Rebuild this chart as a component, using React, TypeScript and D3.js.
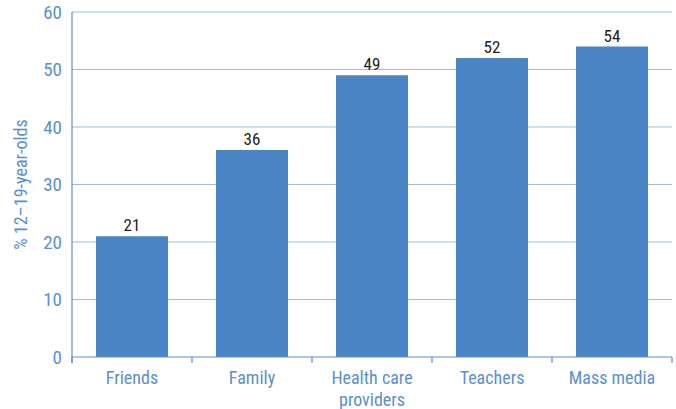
import { useEffect, useRef } from "react";
import * as d3 from "d3";

const categories = ["Friends", "Family", "Health care|providers", "Teachers", "Mass media"];
const values = [21, 36, 49, 52, 54];
const yTicks = [0, 10, 20, 30, 40, 50, 60];

const FONT = "'Liberation Sans Narrow', 'Roboto Condensed', Roboto, sans-serif";

export default function App() {
  const ref = useRef<SVGSVGElement>(null);

  useEffect(() => {
    const svg = d3.select(ref.current);
    svg.selectAll("*").remove();

    const margin = { top: 12, right: 4, bottom: 52, left: 72 };
    const width = 676;
    const height = 409;

    const x = d3
      .scaleBand()
      .domain(categories)
      .range([margin.left, width - margin.right])
      .padding(0);
    const y = d3
      .scaleLinear()
      .domain([0, 60])
      .range([height - margin.bottom, margin.top]);

    // gridlines
    svg
      .append("g")
      .selectAll("line")
      .data(yTicks.filter((d) => d > 0))
      .enter()
      .append("line")
      .attr("x1", margin.left)
      .attr("x2", width - margin.right)
      .attr("y1", (d) => y(d))
      .attr("y2", (d) => y(d))
      .attr("stroke", "#9dbbe2")
      .attr("stroke-width", 1.2);

    // bars
    const bw = x.bandwidth();
    svg
      .append("g")
      .selectAll("rect")
      .data(values)
      .enter()
      .append("rect")
      .attr("x", (_, i) => (x(categories[i]) as number) + bw * 0.2)
      .attr("width", bw * 0.6)
      .attr("y", (d) => y(d))
      .attr("height", (d) => y(0) - y(d))
      .attr("fill", "#4b84c4");

    // value labels
    svg
      .append("g")
      .selectAll("text")
      .data(values)
      .enter()
      .append("text")
      .attr("x", (_, i) => (x(categories[i]) as number) + bw / 2)
      .attr("y", (d) => y(d) - 5)
      .attr("text-anchor", "middle")
      .style("font-family", FONT)
      .style("font-size", "17px")
      .style("fill", "#222")
      .text((d) => d);

    // axes
    const axisColor = "#5b8fd0";
    svg
      .append("line")
      .attr("x1", margin.left)
      .attr("x2", margin.left)
      .attr("y1", y(60))
      .attr("y2", y(0) + 6)
      .attr("stroke", axisColor)
      .attr("stroke-width", 1.2);
    svg
      .append("line")
      .attr("x1", margin.left)
      .attr("x2", width - margin.right)
      .attr("y1", y(0))
      .attr("y2", y(0))
      .attr("stroke", axisColor)
      .attr("stroke-width", 1.2);

    const bounds = categories.map((c) => x(c) as number).concat([width - margin.right]);
    svg
      .append("g")
      .selectAll("line")
      .data(bounds)
      .enter()
      .append("line")
      .attr("x1", (d) => d)
      .attr("x2", (d) => d)
      .attr("y1", y(0))
      .attr("y2", y(0) + 6)
      .attr("stroke", axisColor)
      .attr("stroke-width", 1.2);

    // y tick labels
    svg
      .append("g")
      .selectAll("text")
      .data(yTicks)
      .enter()
      .append("text")
      .attr("x", margin.left - 10)
      .attr("y", (d) => y(d))
      .attr("dy", "0.36em")
      .attr("text-anchor", "end")
      .style("font-family", FONT)
      .style("font-size", "19px")
      .style("fill", axisColor)
      .text((d) => d);

    // category labels
    const lbl = svg
      .append("g")
      .selectAll("text")
      .data(categories)
      .enter()
      .append("text")
      .attr("x", (d) => (x(d) as number) + bw / 2)
      .attr("y", y(0) + 27)
      .attr("text-anchor", "middle")
      .style("font-family", FONT)
      .style("font-size", "18px")
      .style("fill", axisColor);
    lbl
      .selectAll("tspan")
      .data((d) => d.split("|"))
      .enter()
      .append("tspan")
      .attr("x", function () {
        return (this as any).parentNode.getAttribute("x");
      })
      .attr("dy", (_, i) => (i === 0 ? 0 : 22))
      .text((d) => d);

    // y axis title
    svg
      .append("text")
      .attr("transform", `translate(27, ${(y(0) + y(60)) / 2}) rotate(-90)`)
      .attr("text-anchor", "middle")
      .style("font-family", FONT)
      .style("font-size", "18px")
      .style("fill", axisColor)
      .text("% 12–19-year-olds");
  }, []);

  return (
    <svg
      ref={ref}
      width={676}
      height={409}
      style={{ position: "absolute", left: 0, top: 0, background: "#fff" }}
    />
  );
}
